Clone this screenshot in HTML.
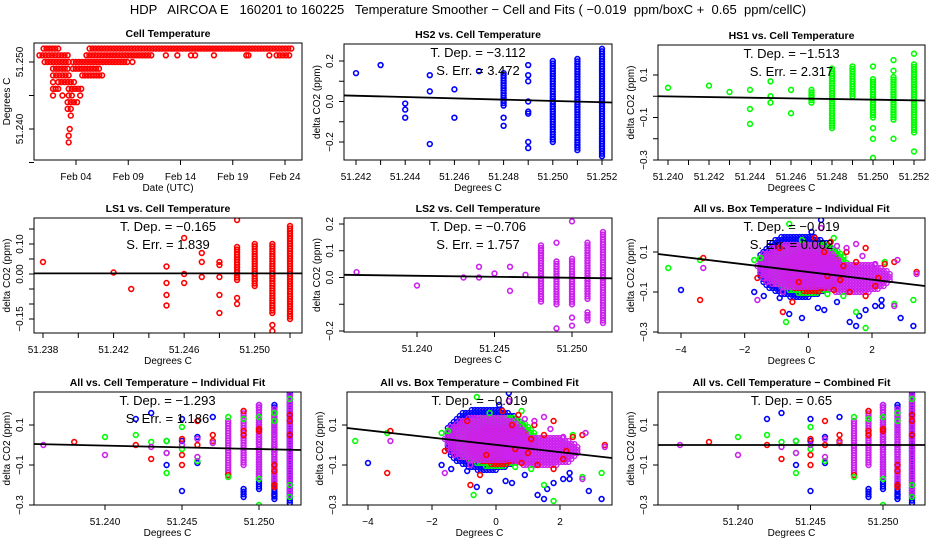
<!DOCTYPE html>
<html><head><meta charset="utf-8"><style>
html,body{margin:0;padding:0;background:#fff}
svg{display:block;font-family:"Liberation Sans",sans-serif}
</style></head><body>
<svg id="c" width="936" height="540" viewBox="0 0 936 540">
<rect width="936" height="540" fill="#fff"/>
<text x="468" y="14" text-anchor="middle" font-size="13" xml:space="preserve">HDP   AIRCOA E   160201 to 160225   Temperature Smoother − Cell and Fits ( −0.019  ppm/boxC +  0.65  ppm/cellC)</text>
</svg>
<script>
// ---- Panel 1: cell temperature time series (row segments: temp, start day, end day)
const p1RowTemp=[51.252,51.252,51.251,51.251,51.251,51.251,51.251,51.251,51.251,51.251,51.251,51.250,51.250,51.250,51.249,51.249,51.248,51.248,51.247,51.247,51.246,51.246,51.245,51.245,51.245,51.245,51.245,51.244,51.243,51.242,51.240,51.239,51.238];
const p1RowStart=[0.9,5.3,0.5,5.0,12.6,13.7,15.0,17.2,20.3,22.5,23.2,1.0,3.7,9.4,1.8,3.7,1.8,4.6,1.8,2.3,1.8,3.3,1.8,2.7,3.3,3.6,4.4,3.2,3.2,3.5,3.4,3.3,3.3];
const p1RowEnd=[2.3,24.6,3.2,11.2,12.6,13.8,15.4,17.2,20.5,22.5,24.4,3.3,8.9,9.4,3.2,6.2,3.3,6.5,1.8,3.8,2.3,4.5,1.8,2.7,3.3,3.6,4.4,4.1,3.5,3.5,3.4,3.3,3.3];
// ---- Panel 2 HS2
const p2PtX=[51.242,51.243,51.244,51.244,51.244,51.245,51.245,51.245,51.246,51.246,51.247,51.248,51.248,51.249,51.249,51.249,51.249,51.249,51.249,51.249,51.249];
const p2PtY=[0.14,0.18,-0.01,-0.04,-0.08,0.13,0.05,-0.21,0.06,-0.08,0.15,-0.08,-0.12,0.18,0.13,0.10,0.0,-0.05,-0.06,-0.2,-0.23];
const p2ColX=[51.248,51.250,51.251,51.252];
const p2ColMin=[-0.02,-0.2,-0.24,-0.27];
const p2ColMax=[0.14,0.2,0.21,0.26];
const p2Fit=[0.03,-0.005];
// ---- Panel 3 HS1
const p3PtX=[51.240,51.242,51.243,51.244,51.244,51.244,51.245,51.245,51.245,51.246,51.246,51.250,51.250,51.250,51.250,51.251,51.251,51.251,51.252,51.252];
const p3PtY=[0.04,0.05,0.02,0.03,-0.06,-0.13,0.07,0.0,-0.03,0.03,-0.08,0.14,-0.15,-0.2,-0.29,0.17,0.12,-0.2,0.2,-0.26];
const p3ColX=[51.247,51.248,51.249,51.250,51.251,51.252];
const p3ColMin=[-0.03,-0.15,0.0,-0.1,-0.11,-0.17];
const p3ColMax=[0.03,0.13,0.14,0.08,0.09,0.15];
const p3Fit=[0.0,-0.02];
// ---- Panel 4 LS1
const p4PtX=[51.238,51.242,51.243,51.245,51.245,51.245,51.245,51.246,51.246,51.246,51.247,51.247,51.247,51.248,51.248,51.248,51.248,51.248,51.249,51.249,51.249,51.251,51.251];
const p4PtY=[0.04,0.005,-0.05,0.025,-0.03,-0.07,-0.105,0.12,0.0,-0.03,0.07,0.04,-0.01,0.04,0.03,-0.01,-0.07,-0.13,0.18,-0.08,-0.10,-0.17,-0.19];
const p4ColX=[51.249,51.250,51.251,51.252];
const p4ColMin=[-0.02,-0.04,-0.13,-0.15];
const p4ColMax=[0.09,0.1,0.1,0.16];
const p4Fit=[0.002,0.002];
// ---- Panel 5 LS2
const p5PtX=[51.2361,51.240,51.243,51.244,51.244,51.245,51.246,51.246,51.247,51.249,51.249,51.250,51.250,51.250];
const p5PtY=[0.02,-0.03,0.0,0.04,0.0,0.015,0.04,-0.05,0.01,0.13,-0.19,0.21,-0.15,-0.18];
const p5ColX=[51.248,51.249,51.250,51.251,51.251,51.252];
const p5ColMin=[-0.09,-0.1,-0.1,-0.08,-0.16,-0.17];
const p5ColMax=[0.12,0.06,0.07,0.13,-0.13,0.17];
const p5Fit=[0.01,-0.003];
// ---- Panels 6 & 8: box temperature clouds (cx, cy, rx, ry) + outliers
const cloudColor=['b','g','r','m','m'];
const cloudCx=[-0.3,0.0,0.1,-0.3,1.4];
const cloudCy=[0.03,0.02,0.0,0.03,-0.03];
const cloudRx=[1.3,1.25,1.0,1.3,1.2];
const cloudRy=[0.16,0.13,0.1,0.12,0.08];
const boxBlueX=[-4,-0.6,-0.2,0.3,1.3,1.6,1.8,2.1,2.3,2.9,3.3,0.4,0.1,-1.7,-1.4,0.9,0.5,1.5,2.3,-0.9];
const boxBlueY=[-0.09,-0.21,-0.23,-0.18,-0.25,-0.22,-0.19,-0.17,-0.17,-0.23,-0.27,0.26,0.2,-0.1,-0.12,-0.15,-0.19,-0.27,-0.14,-0.13];
const boxGreenX=[-4.4,-3.4,-1.7,-0.6,0.8,1.8,-0.7,1.5,3.3,2.7,2.4,-0.2,-1.5,1.1,0.6];
const boxGreenY=[0.02,0.06,0.06,0.24,0.17,-0.28,-0.25,-0.2,-0.14,-0.16,0.05,0.16,0.07,-0.12,-0.11];
const boxRedX=[-3.4,-3.3,-0.8,-0.5,0.2,0.7,1.5,1.2,2.1,2.4,2.7,3.4,1.8,1.0,-1.6,0.5,1.3,1.8,0.8,2.2,-0.9,-0.3,0.6,1.1];
const boxRedY=[-0.14,0.07,-0.2,-0.15,0.17,0.15,0.05,0.1,-0.07,0.04,0.05,0.0,0.12,-0.04,-0.03,0.1,-0.1,-0.12,-0.09,-0.03,0.12,-0.05,-0.02,0.03];
const boxMagX=[-3.3,-1.6,1.5,2.8,2.7,3.4,1.7,1.2,-1.3,2.1,0.9,0.4,-0.8];
const boxMagY=[0.02,-0.14,0.14,0.06,-0.17,-0.01,0.08,0.12,-0.05,0.04,0.13,0.22,-0.1];
const p6Fit=[0.09,-0.07];
const p8Fit=[0.085,-0.065];
// ---- Panels 7 & 9: all vs cell temperature
const allBlueColX=[51.249,51.250,51.251,51.252];
const allBlueColMin=[-0.26,-0.22,-0.27,-0.29];
const allBlueColMax=[-0.22,0.2,0.2,0.28];
const allMagColX=[51.248,51.249,51.250,51.251,51.252];
const allMagColMin=[-0.15,-0.1,-0.17,-0.2,-0.25];
const allMagColMax=[0.12,0.17,0.2,0.18,0.25];
const allRedX=[51.249,51.249,51.249,51.250,51.250,51.251,51.251,51.251,51.251,51.252,51.252,51.252,51.248,51.247,51.247,51.246,51.246,51.245,51.245,51.245,51.243,51.242,51.238];
const allRedY=[0.17,0.07,0.05,0.08,0.07,-0.1,-0.13,-0.2,-0.21,0.15,0.12,0.05,-0.15,0.05,0.02,0.12,0.0,0.03,-0.05,-0.1,-0.07,0.0,0.015];
const allGreenX=[51.252,51.252,51.252,51.251,51.251,51.250,51.250,51.250,51.249,51.248,51.248,51.247,51.246,51.245,51.245,51.244,51.244,51.244,51.243,51.242,51.240];
const allGreenY=[0.23,-0.26,-0.2,0.16,0.12,0.14,-0.17,-0.3,0.13,0.14,-0.16,0.01,-0.08,0.09,-0.02,-0.04,-0.14,0.02,0.015,0.05,0.04];
const allBlueX=[51.245,51.245,51.244,51.244,51.243,51.242,51.246,51.246,51.247,51.245,51.251];
const allBlueY=[0.13,-0.23,-0.1,0.02,0.16,0.13,-0.09,0.04,0.14,0.02,-0.25];
const allMagX=[51.236,51.240,51.243,51.244,51.246,51.246,51.247,51.245];
const allMagY=[0.0,-0.05,-0.01,-0.04,-0.06,0.03,0.01,0.0];
const p7Fit=[0.005,-0.025];
const p9Fit=[0.0,0.0];

const COL={r:'#ff0000',g:'#00ff00',b:'#0000ff',m:'#cc22ee'};
const NS='http://www.w3.org/2000/svg';
const svg=document.getElementById('c');
function mk(tag,at,parent){const e=document.createElementNS(NS,tag);for(const k in at)e.setAttribute(k,at[k]);(parent||svg).appendChild(e);return e;}
function lin(d0,p0,d1,p1){return v=>p0+(v-d0)*(p1-p0)/(d1-d0);}

function panel(c){
  const g=mk('g',{});
  
  
  const sx=lin(...c.xd), sy=lin(...c.yd);
  const clip='cl'+c.name;
  const cp=mk('clipPath',{id:clip},g);mk('rect',{x:c.x0,y:c.y0,width:c.x1-c.x0,height:c.y1-c.y0},cp);
  const marks=mk('g',{'clip-path':'url(#'+clip+')'},g);
  const t=mk('text',{x:(c.x0+c.x1)/2,y:c.y0-6,'text-anchor':'middle','font-size':'10.5','font-weight':'bold'},g);
  t.textContent=c.title;
  
  
  const box=mk('rect',{x:c.x0,y:c.y0,width:c.x1-c.x0,height:c.y1-c.y0,fill:'none',stroke:'#000','stroke-width':1},g);
  
  
  c.xt.forEach((v,i)=>{const x=sx(v);mk('line',{x1:x,x2:x,y1:c.y1,y2:c.y1+5,stroke:'#000'},g);
    if(c.xl[i]){const tl=mk('text',{x:x,y:c.y1+20,'text-anchor':'middle','font-size':'10'},g);tl.textContent=c.xl[i];
      
      }});
  c.yt.forEach((v,i)=>{const y=sy(v);mk('line',{x1:c.x0,x2:c.x0-5,y1:y,y2:y,stroke:'#000'},g);
    if(c.yl[i]){const tl=mk('text',{x:c.x0-11,y:y,'text-anchor':'middle','font-size':'10',transform:`rotate(-90 ${c.x0-11} ${y})`},g);tl.textContent=c.yl[i];
      
      }});
  const xl=mk('text',{x:(c.x0+c.x1)/2,y:c.y1+31,'text-anchor':'middle','font-size':'10'},g);xl.textContent=c.xlab;
  
  
  const yc=(c.y0+c.y1)/2, yx=c.x0-24;
  const yl=mk('text',{x:yx,y:yc,'text-anchor':'middle','font-size':'10',transform:`rotate(-90 ${yx} ${yc})`},g);yl.textContent=c.ylab;
  
  
  return {g,marks,sx,sy,c};
}
function pt(P,x,y,col){const e=mk('circle',{cx:P.sx(x),cy:P.sy(y),r:2.4,fill:'none',stroke:COL[col],'stroke-width':1.6},P.marks);
  
  }
function pts(P,X,Y,col){X.forEach((x,i)=>pt(P,x,Y[i],col));}
function cols(P,X,MIN,MAX,col){X.forEach((x,i)=>{const a=P.sy(MAX[i]),b=P.sy(MIN[i]);const n=Math.max(1,Math.round((b-a)/2.5));
  for(let k=0;k<=n;k++){const e=mk('circle',{cx:P.sx(x),cy:a+(b-a)*k/n,r:2.4,fill:'none',stroke:COL[col],'stroke-width':1.6},P.marks);
    
    }});}
function fit(P,vals){const d0=P.c.xd[0]+(P.c.x0-P.c.xd[1])*(P.c.xd[2]-P.c.xd[0])/(P.c.xd[3]-P.c.xd[1]);
  const d1=P.c.xd[0]+(P.c.x1-P.c.xd[1])*(P.c.xd[2]-P.c.xd[0])/(P.c.xd[3]-P.c.xd[1]);
  const l=mk('line',{x1:P.sx(d0),y1:P.sy(vals[0]),x2:P.sx(d1),y2:P.sy(vals[1]),stroke:'#000','stroke-width':1.8},P.g);
  
  }
function stats(P,lines){lines.forEach((s,i)=>{const t=mk('text',{x:(P.c.x0+P.c.x1)/2,y:P.c.y0+13+i*18,'text-anchor':'middle','font-size':'13'},P.g);t.textContent=s;
  
  });}
function clouds(P){cloudColor.forEach((col,i)=>{const px0=P.sx(cloudCx[i]-cloudRx[i]),px1=P.sx(cloudCx[i]+cloudRx[i]),py0=P.sy(cloudCy[i]+cloudRy[i]),py1=P.sy(cloudCy[i]-cloudRy[i]);
  const cx=(px0+px1)/2,cy=(py0+py1)/2,rx=(px1-px0)/2,ry=(py1-py0)/2;
  for(let y=py0;y<=py1;y+=3)for(let x=px0;x<=px1;x+=3){if(((x-cx)/rx)**2+((y-cy)/ry)**2<=1){const e=mk('circle',{cx:x,cy:y,r:2.4,fill:'none',stroke:COL[col],'stroke-width':1.4},P.marks);
    
    }}});}

const ppm='delta CO2 (ppm)';

// Panel 1
{const P=panel({name:'cell-temperature-panel',title:'Cell Temperature',x0:34,x1:302,y0:43,y1:160,xd:[4,76,24,285],yd:[51.250,62,51.240,129],
  xt:[4,9,14,19,24],xl:['Feb 04','Feb 09','Feb 14','Feb 19','Feb 24'],yt:[51.250,51.245,51.240,51.235],yl:['51.250','','51.240',''],xlab:'Date (UTC)',ylab:'Degrees C'});
 p1RowTemp.forEach((t,i)=>{const a=P.sx(p1RowStart[i]),b=P.sx(p1RowEnd[i]);const n=Math.max(0,Math.round((b-a)/3));
  for(let k=0;k<=n;k++){const e=mk('circle',{cx:n?a+(b-a)*k/n:a,cy:P.sy(t),r:2.4,fill:'none',stroke:'#ff0000','stroke-width':1.6},P.marks);
   
   }});}
// Panel 2
{const xt=[51.242,51.243,51.244,51.245,51.246,51.247,51.248,51.249,51.250,51.251,51.252];
 const P=panel({name:'hs2-panel',title:'HS2 vs. Cell Temperature',x0:344,x1:612,y0:44,y1:160,xd:[51.242,356,51.252,602],yd:[0.2,61,-0.2,142],
  xt:xt,xl:xt.map((v,i)=>i%2?'':v.toFixed(3)),yt:[0.2,0.1,0,-0.1,-0.2],yl:['0.2','','0.0','','−0.2'],xlab:'Degrees C',ylab:ppm});
 pts(P,p2PtX,p2PtY,'b');cols(P,p2ColX,p2ColMin,p2ColMax,'b');fit(P,p2Fit);stats(P,['T. Dep. =  −3.112','S. Err. =  3.472']);}
// Panel 3
{const xt=[51.240,51.241,51.242,51.243,51.244,51.245,51.246,51.247,51.248,51.249,51.250,51.251,51.252];
 const P=panel({name:'hs1-panel',title:'HS1 vs. Cell Temperature',x0:658,x1:925,y0:45,y1:160,xd:[51.240,668,51.252,914],yd:[0.1,75,-0.3,160],
  xt:xt,xl:xt.map((v,i)=>i%2?'':v.toFixed(3)),yt:[0.1,0,-0.1,-0.2,-0.3],yl:['0.1','','−0.1','','−0.3'],xlab:'Degrees C',ylab:ppm});
 pts(P,p3PtX,p3PtY,'g');cols(P,p3ColX,p3ColMin,p3ColMax,'g');fit(P,p3Fit);stats(P,['T. Dep. =  −1.513','S. Err. =  2.317']);}
// Panel 4
{const xt=[51.238,51.240,51.242,51.244,51.246,51.248,51.250,51.252];
 const P=panel({name:'ls1-panel',title:'LS1 vs. Cell Temperature',x0:34,x1:302,y0:218,y1:333,xd:[51.238,43,51.252,290],yd:[0.10,244,0.0,274],
  xt:xt,xl:xt.map((v,i)=>i%2?'':v.toFixed(3)),yt:[0.15,0.10,0.05,0,-0.05,-0.10,-0.15],yl:['','0.10','','0.00','','','−0.15'],xlab:'Degrees C',ylab:ppm});
 pts(P,p4PtX,p4PtY,'r');cols(P,p4ColX,p4ColMin,p4ColMax,'r');fit(P,p4Fit);stats(P,['T. Dep. =  −0.165','S. Err. =  1.839']);}
// Panel 5
{const P=panel({name:'ls2-panel',title:'LS2 vs. Cell Temperature',x0:344,x1:612,y0:218,y1:332,xd:[51.240,417,51.250,572],yd:[0.2,224,-0.2,331],
  xt:[51.240,51.245,51.250],xl:['51.240','51.245','51.250'],yt:[0.2,0.1,0,-0.1,-0.2],yl:['0.2','0.1','0.0','','−0.2'],xlab:'Degrees C',ylab:ppm});
 pts(P,p5PtX,p5PtY,'m');cols(P,p5ColX,p5ColMin,p5ColMax,'m');fit(P,p5Fit);stats(P,['T. Dep. =  −0.706','S. Err. =  1.757']);}
function boxPts(P){pts(P,boxBlueX,boxBlueY,'b');pts(P,boxGreenX,boxGreenY,'g');pts(P,boxRedX,boxRedY,'r');pts(P,boxMagX,boxMagY,'m');}
// Panel 6
{const P=panel({name:'all-box-individual-panel',title:'All vs. Box Temperature − Individual Fit',x0:658,x1:925,y0:218,y1:333,xd:[-4,681,2,872],yd:[0.1,252,-0.1,292],
  xt:[-4,-2,0,2],xl:['−4','−2','0','2'],yt:[0.1,-0.1,-0.3],yl:['0.1','−0.1','−0.3'],xlab:'Degrees C',ylab:ppm});
 clouds(P);boxPts(P);fit(P,p6Fit);stats(P,['T. Dep. =  −0.019','S. Err. =  0.002']);}
// Panel 7 & 9
function allCell(P){cols(P,allBlueColX,allBlueColMin,allBlueColMax,'b');cols(P,allMagColX,allMagColMin,allMagColMax,'m');
 pts(P,allBlueX,allBlueY,'b');pts(P,allRedX,allRedY,'r');pts(P,allGreenX,allGreenY,'g');pts(P,allMagX,allMagY,'m');}
{const P=panel({name:'all-cell-individual-panel',title:'All vs. Cell Temperature − Individual Fit',x0:34,x1:301,y0:392,y1:505,xd:[51.240,105,51.250,259],yd:[0.1,425,-0.1,465],
  xt:[51.240,51.245,51.250],xl:['51.240','51.245','51.250'],yt:[0.1,-0.1,-0.3],yl:['0.1','−0.1','−0.3'],xlab:'Degrees C',ylab:ppm});
 allCell(P);fit(P,p7Fit);stats(P,['T. Dep. =  −1.293','S. Err. =  1.186']);}
// Panel 8
{const P=panel({name:'all-box-combined-panel',title:'All vs. Box Temperature − Combined Fit',x0:347,x1:612,y0:392,y1:505,xd:[-4,368,2,560],yd:[0.1,425,-0.1,465],
  xt:[-4,-2,0,2],xl:['−4','−2','0','2'],yt:[0.1,-0.1,-0.3],yl:['0.1','−0.1','−0.3'],xlab:'Degrees C',ylab:ppm});
 clouds(P);boxPts(P);fit(P,p8Fit);stats(P,['T. Dep. =  −0.019']);}
// Panel 9
{const P=panel({name:'all-cell-combined-panel',title:'All vs. Cell Temperature − Combined Fit',x0:658,x1:925,y0:392,y1:505,xd:[51.240,738,51.250,883],yd:[0.1,425,-0.1,465],
  xt:[51.240,51.245,51.250],xl:['51.240','51.245','51.250'],yt:[0.1,-0.1,-0.3],yl:['0.1','−0.1','−0.3'],xlab:'Degrees C',ylab:ppm});
 allCell(P);fit(P,p9Fit);stats(P,['T. Dep. =  0.65']);}
</script>
</body></html>
